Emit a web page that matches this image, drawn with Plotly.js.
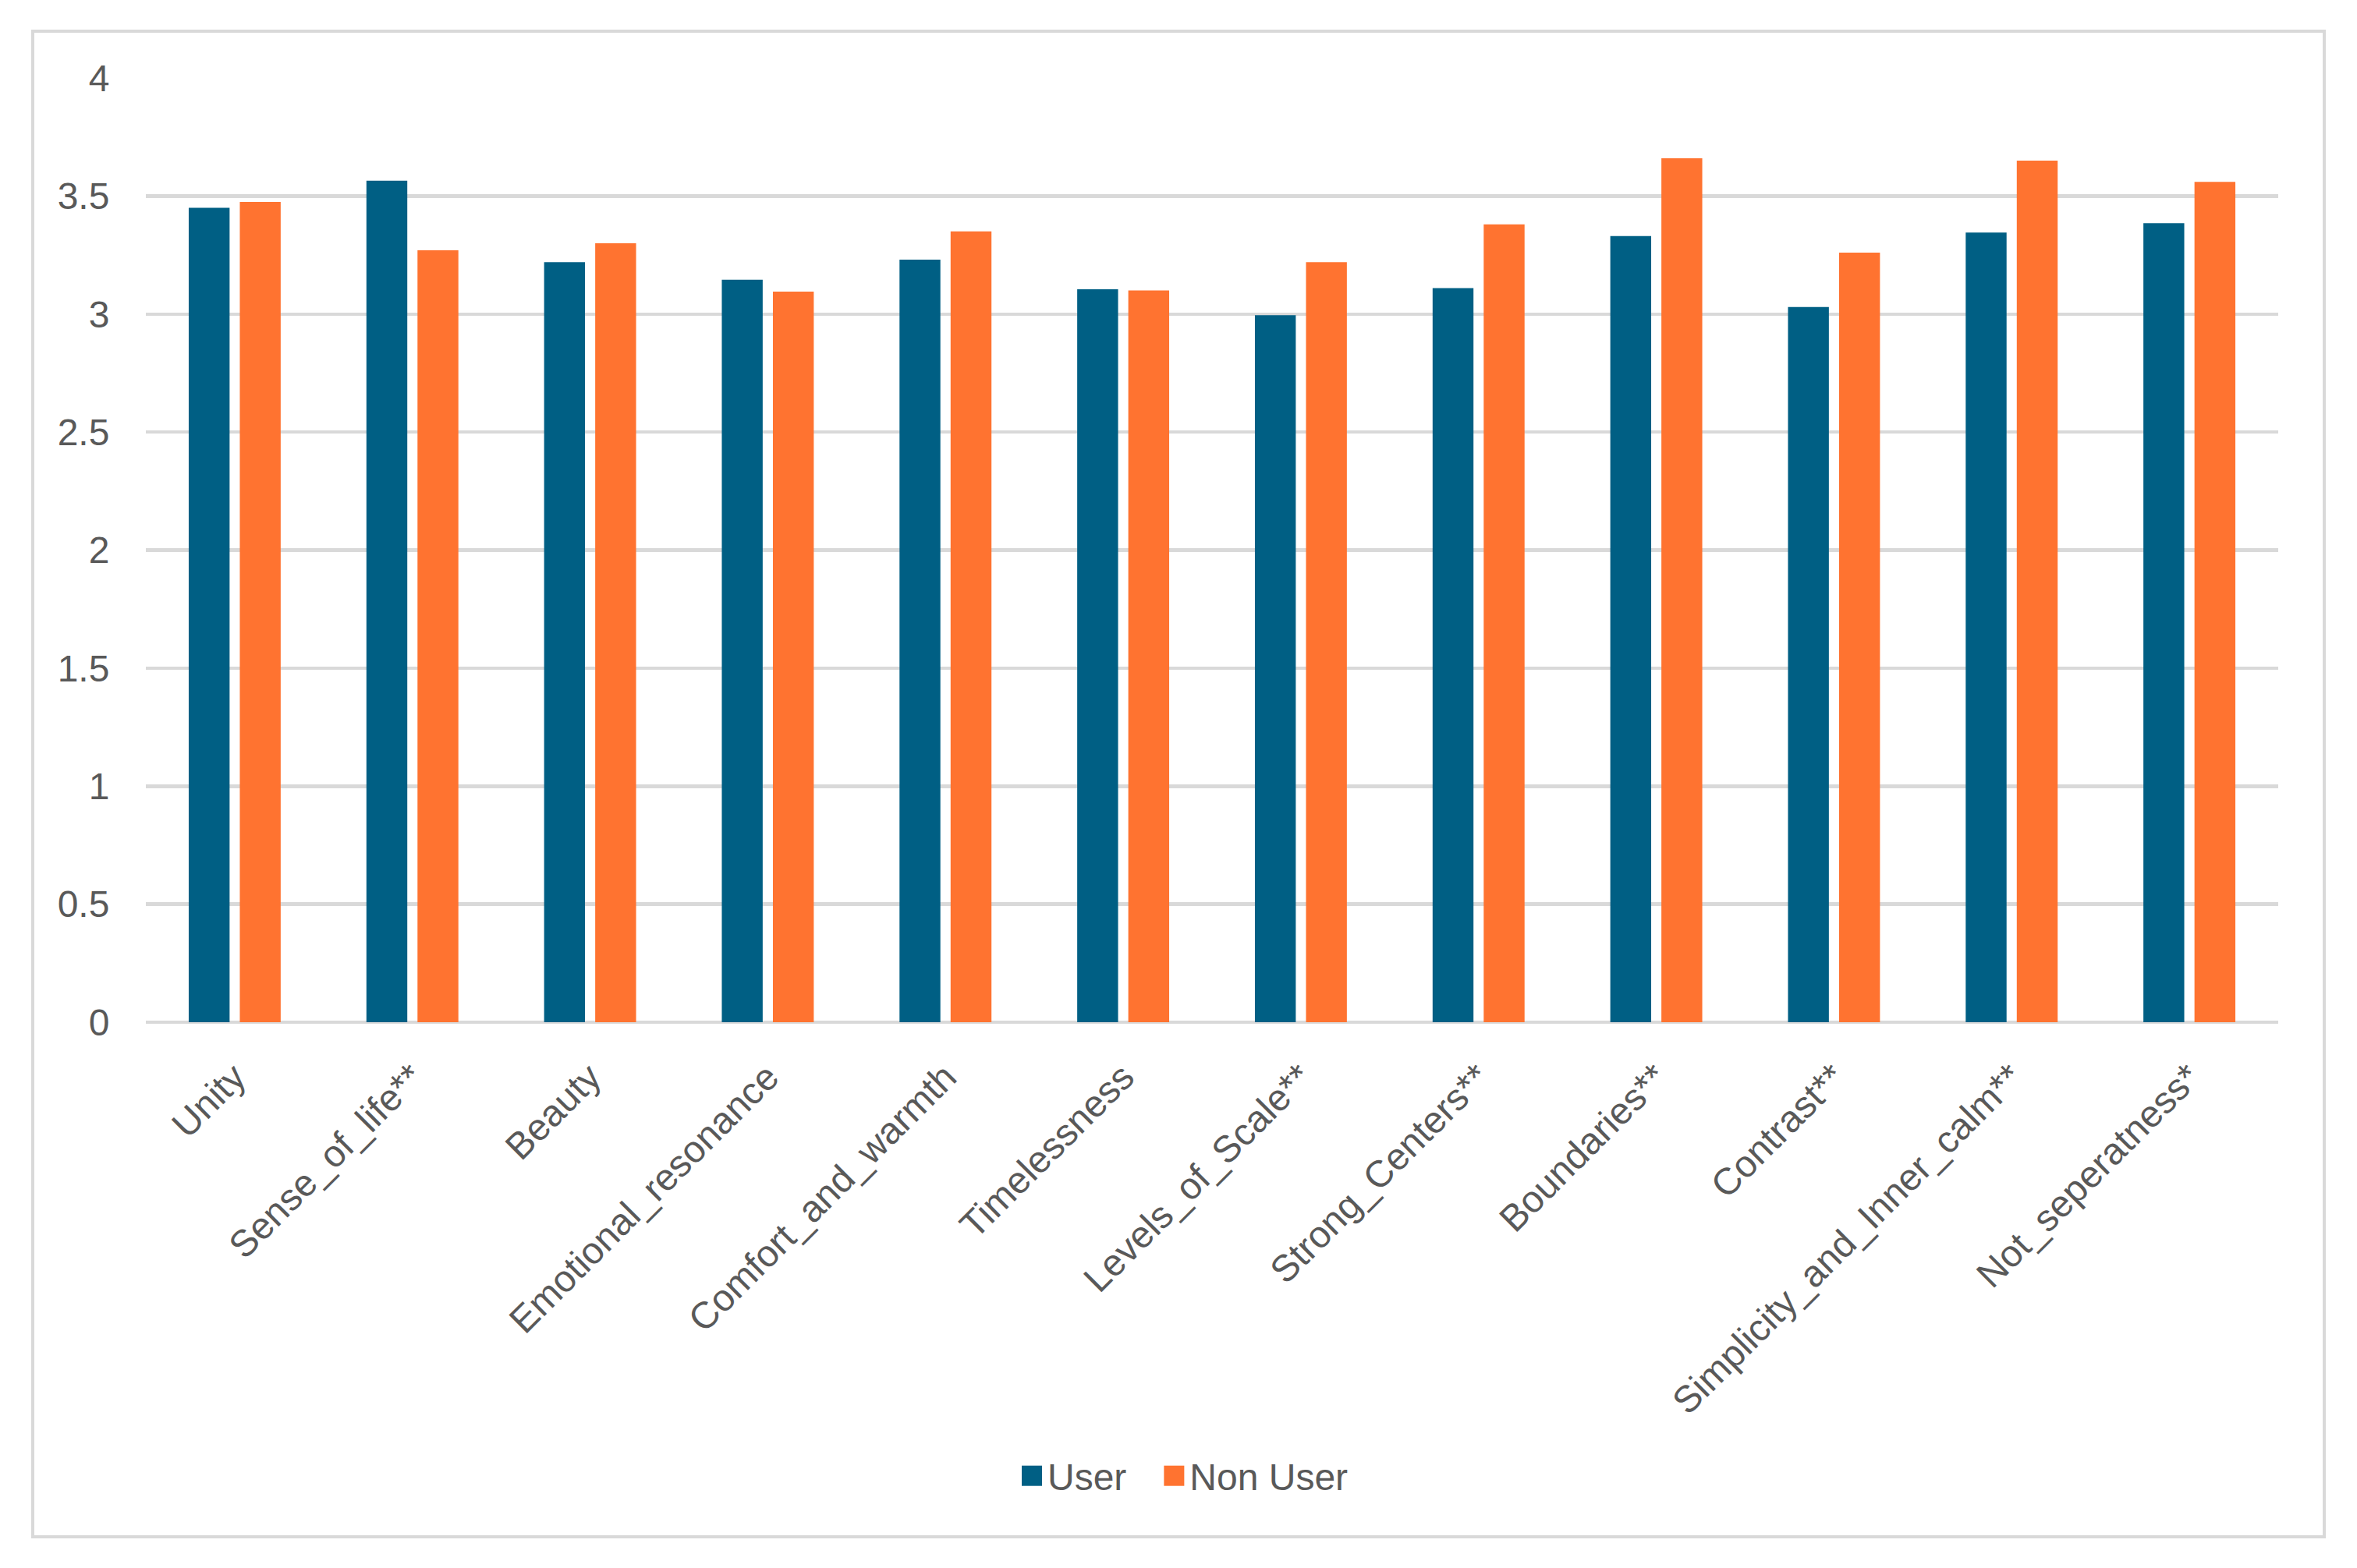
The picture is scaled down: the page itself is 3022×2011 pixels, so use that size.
<!DOCTYPE html>
<html>
<head>
<meta charset="utf-8">
<script src="https://cdn.plot.ly/plotly-3.0.1.min.js"></script>
<style>
  html, body { margin: 0; padding: 0; background: #ffffff; }
  #chart { width: 3022px; height: 2011px; }
</style>
</head>
<body>
<div id="chart"></div>
<script>
// ---- data ----
const categories = [
  "Unity", "Sense_of_life**", "Beauty", "Emotional_resonance", "Comfort_and_warmth",
  "Timelessness", "Levels_of_Scale**", "Strong_Centers**", "Boundaries**", "Contrast**",
  "Simplicity_and_Inner_calm**", "Not_seperatness*"
];
const userValues =    [3.45, 3.565, 3.22, 3.145, 3.23, 3.105, 2.995, 3.11, 3.33, 3.03, 3.345, 3.385];
const nonUserValues = [3.475, 3.27, 3.30, 3.095, 3.35, 3.10, 3.22, 3.38, 3.66, 3.26, 3.65, 3.56];
const seriesNames = ["User", "Non User"];
const yTickValues = [0, 0.5, 1, 1.5, 2, 2.5, 3, 3.5, 4];

// ---- styles ----
const userColor = "#005f84";
const nonUserColor = "#ff7330";
const textColor = "#595959";
const gridColor = "#d9d9d9";
const fontFamily = "Liberation Sans, Arial, Helvetica, sans-serif";

const W = 3022, H = 2011;
const plotL = 187, plotR = 2921, plotT = 100, plotB = 1311;
const pw = plotR - plotL, ph = plotB - plotT;
const px = v => (v - plotL) / pw;
const py = v => (plotB - v) / ph;

const traces = [
  { type: "bar", name: seriesNames[0], x: categories, y: userValues,
    marker: { color: userColor }, hoverinfo: "x+y" },
  { type: "bar", name: seriesNames[1], x: categories, y: nonUserValues,
    marker: { color: nonUserColor }, hoverinfo: "x+y" }
];

const layout = {
  width: W, height: H,
  margin: { l: plotL, r: W - plotR, t: plotT, b: H - plotB, pad: 0 },
  paper_bgcolor: "#ffffff",
  plot_bgcolor: "#ffffff",
  font: { family: fontFamily, size: 48, color: textColor },
  barmode: "group",
  bargap: 0.425,
  bargroupgap: 0.2,
  showlegend: true,
  legend: {
    orientation: "h",
    x: px(1303), xanchor: "left",
    y: py(1893), yanchor: "middle",
    font: { family: fontFamily, size: 48, color: textColor },
    itemwidth: 30,
    bgcolor: "rgba(0,0,0,0)"
  },
  xaxis: {
    type: "category",
    tickangle: -45,
    showgrid: false,
    showline: false,
    zeroline: false,
    ticks: "outside",
    ticklen: 22,
    tickcolor: "rgba(0,0,0,0)",
    tickfont: { family: fontFamily, size: 48, color: textColor },
    automargin: false,
    fixedrange: true
  },
  yaxis: {
    range: [0, 4],
    tickvals: yTickValues,
    ticktext: yTickValues.map(v => String(v)),
    showgrid: true,
    gridcolor: gridColor,
    gridwidth: 4.5,
    zeroline: true,
    zerolinecolor: gridColor,
    zerolinewidth: 4.5,
    showline: false,
    ticks: "outside",
    ticklen: 36,
    tickcolor: "rgba(0,0,0,0)",
    tickfont: { family: fontFamily, size: 48, color: textColor },
    automargin: false,
    fixedrange: true
  },
  shapes: [
    { type: "rect", xref: "paper", yref: "paper", layer: "below",
      x0: px(42), x1: px(2980), y0: py(1971), y1: py(40),
      line: { color: gridColor, width: 4 }, fillcolor: "rgba(0,0,0,0)" }
  ]
};

Plotly.newPlot("chart", traces, layout, { displayModeBar: false, staticPlot: true }).then(() => {
  document.querySelectorAll("#chart .legendpoints path").forEach(p => {
    p.setAttribute("d", "M13,13H-13V-13H13Z");
  });
  // widen the gap between the two legend entries
  document.querySelectorAll("#chart .legend [clip-path]").forEach(el => el.removeAttribute("clip-path"));
  const items = document.querySelectorAll("#chart .legend .traces");
  items.forEach((g, i) => {
    if (i === 0) return;
    const t = g.getAttribute("transform") || "";
    const m = t.match(/translate\(\s*([-\d.]+)[ ,]+([-\d.]+)\s*\)/);
    if (m) {
      g.setAttribute("transform", "translate(" + (parseFloat(m[1]) + 36 * i) + "," + m[2] + ")");
    }
  });
});
</script>
</body>
</html>
